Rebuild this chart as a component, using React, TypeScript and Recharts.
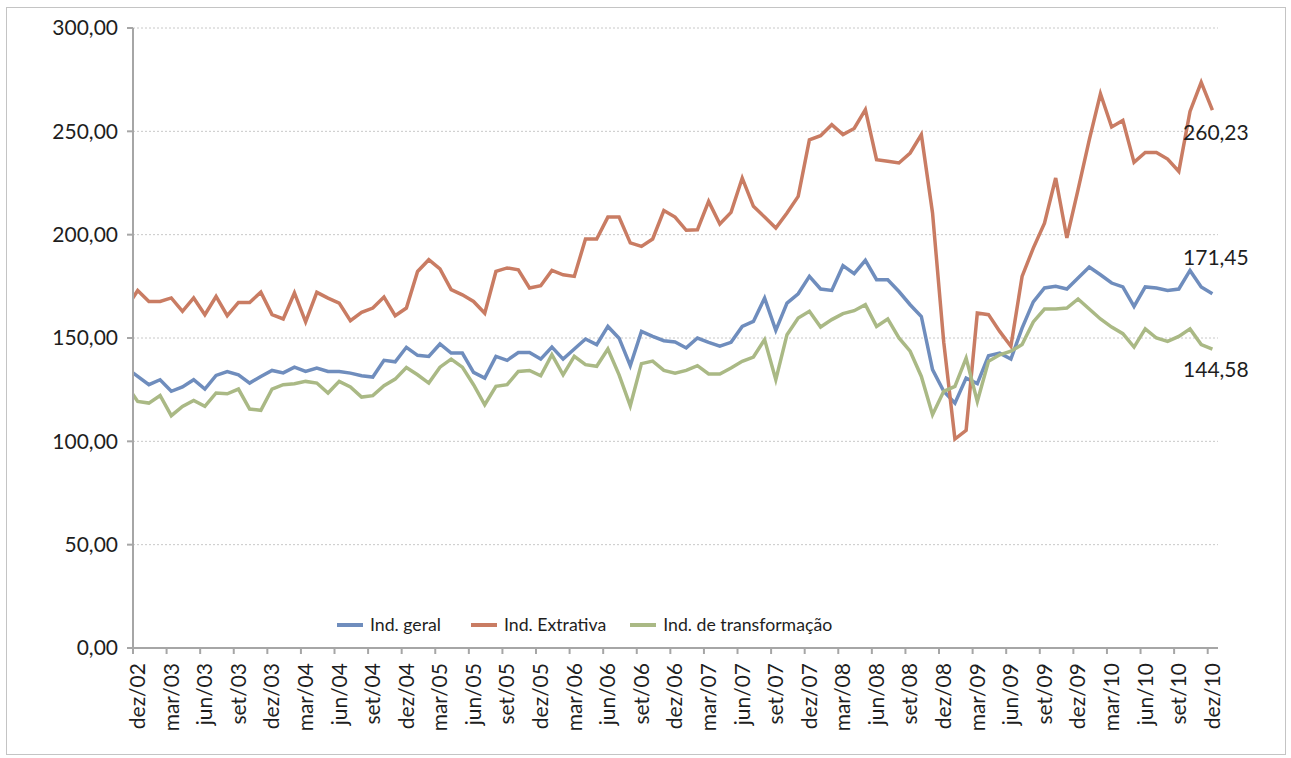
import React from "react";
import {
  LineChart,
  Line,
  XAxis,
  YAxis,
  CartesianGrid,
  Legend,
  LabelList,
} from "recharts";

const monthNames = ["jan", "fev", "mar", "abr", "mai", "jun", "jul", "ago", "set", "out", "nov", "dez"];

// nov/02 ... dez/10 (nov/02 only shows as the short stub left of the first tick)
const months: string[] = [];
for (let y = 2002; y <= 2010; y++) {
  for (let m = 0; m < 12; m++) {
    if (y === 2002 && m < 10) continue;
    months.push(`${monthNames[m]}/${String(y).slice(2)}`);
  }
}

const yTicks = [0, 50, 100, 150, 200, 250, 300];
// one label every 3 months, starting at dez/02 (index 0)
const xTicks = Array.from({ length: 33 }, (_, k) => k * 3);

const indGeral = [
  135.5,
  131.4, 127.4, 129.8, 124.2, 126.3, 129.8, 125.3, 131.9, 133.8, 132.2, 128.2, 131.4,
  134.3, 133.1, 135.9, 133.8, 135.5, 133.8, 133.8, 133.0, 131.7, 131.1, 139.2, 138.5,
  145.5, 141.6, 141.1, 147.1, 142.7, 142.7, 133.4, 130.6, 141.1, 139.2, 143.0, 143.0,
  139.8, 145.6, 139.8, 144.7, 149.5, 146.8, 155.6, 149.9, 136.6, 153.2, 150.8, 148.7,
  148.1, 145.2, 150.0, 147.9, 146.0, 147.9, 155.6, 158.0, 169.3, 153.7, 166.9, 171.4,
  179.8, 173.7, 173.0, 185.0, 181.1, 187.6, 178.2, 178.2, 172.5, 166.1, 160.4, 134.7,
  124.2, 118.5, 130.6, 127.9, 141.4, 142.7, 139.8, 154.8, 167.5, 174.2, 175.0, 173.7,
  179.0, 184.3, 180.6, 176.6, 174.7, 165.3, 174.7, 174.2, 173.0, 173.7, 182.7, 174.7,
  171.45,
];

const indExtrativa = [
  164.5,
  173.0, 167.7, 167.7, 169.4, 162.9, 169.4, 161.3, 170.1, 160.8, 167.2, 167.2, 172.2,
  161.3, 159.2, 171.8, 157.8, 172.1, 169.3, 166.9, 158.4, 162.4, 164.5, 169.8, 160.8,
  164.5, 182.2, 187.9, 183.4, 173.4, 170.9, 167.7, 162.0, 182.2, 183.9, 183.0, 174.2,
  175.3, 182.7, 180.6, 179.8, 197.9, 197.9, 208.5, 208.5, 196.0, 194.3, 197.9, 211.7,
  208.5, 202.1, 202.4, 216.1, 205.2, 210.8, 227.4, 213.7, 208.5, 203.2, 210.5, 218.5,
  245.9, 247.9, 253.2, 248.4, 251.4, 260.5, 236.3, 235.5, 234.7, 239.5, 248.4, 210.5,
  148.0, 101.1, 105.3, 162.1, 161.3, 153.2, 146.0, 179.8, 193.5, 205.6, 227.4, 198.4,
  221.8, 245.9, 268.2, 252.1, 255.3, 235.0, 239.8, 239.8, 236.6, 230.6, 259.6, 273.7,
  260.23,
];

const indTransformacao = [
  127.1,
  119.3, 118.5, 122.2, 112.4, 116.9, 119.8, 116.9, 123.4, 123.0, 125.3, 115.6, 115.0,
  125.3, 127.4, 127.9, 129.0, 128.2, 123.4, 129.0, 126.3, 121.4, 122.1, 126.9, 130.1,
  135.7, 132.2, 128.2, 135.9, 139.8, 135.9, 127.4, 117.7, 126.6, 127.4, 133.8, 134.3,
  131.7, 141.9, 132.2, 141.1, 137.1, 136.3, 144.7, 132.2, 117.2, 137.6, 138.8, 134.3,
  133.0, 134.3, 136.6, 132.6, 132.6, 135.5, 138.7, 140.8, 149.2, 129.8, 151.6, 159.7,
  162.9, 155.3, 158.9, 161.8, 163.2, 166.1, 155.6, 159.2, 150.0, 143.6, 131.4, 112.9,
  124.2, 126.6, 140.3, 119.3, 138.7, 141.9, 143.6, 146.8, 157.8, 164.0, 164.0, 164.5,
  168.9, 164.0, 159.2, 155.3, 152.1, 145.6, 154.4, 150.0, 148.4, 150.8, 154.4, 146.8,
  144.58,
];

const series = [
  { key: "geral", name: "Ind. geral", color: "#6f8dbd", labelDy: -36, gap: 30 },
  { key: "extrativa", name: "Ind. Extrativa", color: "#c97c63", labelDy: 22, gap: 24 },
  { key: "transformacao", name: "Ind. de transformação", color: "#aab985", labelDy: 20, gap: 0 },
];

const data = months.map((m, k) => ({
  idx: k - 1,
  label: m,
  geral: indGeral[k],
  extrativa: indExtrativa[k],
  transformacao: indTransformacao[k],
}));

const FONT = "Lato, 'DejaVu Sans', sans-serif";
const TEXT = "#1e1e1e";
const AXIS = "#a6a6a6";
const fmt = (v: number) => v.toFixed(2).replace(".", ",");

const MonthTick = ({ x, y, payload }: any) => {
  const label = months[payload.value + 1];
  const ty = y + 15;
  return (
    <g>
      <line x1={x - 4.7} x2={x - 4.7} y1={y} y2={y + 6} stroke={AXIS} strokeWidth={2} />
      <text
        x={x}
        y={ty}
        dy="0.35em"
        textAnchor="end"
        transform={`rotate(-90, ${x}, ${ty})`}
        fontSize={21}
        fontFamily={FONT}
        fill={TEXT}
      >
        {label}
      </text>
    </g>
  );
};

const endLabel = (dy: number) => (props: any) => {
  const { x, y, index, value } = props;
  if (index !== data.length - 1) return null;
  return (
    <text
      x={x + 3.5}
      y={y + dy}
      dy="0.35em"
      textAnchor="middle"
      fontSize={21}
      fontFamily={FONT}
      fill={TEXT}
    >
      {fmt(value)}
    </text>
  );
};

const LegendContent = () => (
  <div style={{ display: "flex", alignItems: "center", fontFamily: FONT, fontSize: 17.7, color: TEXT }}>
    {series.map((s) => (
      <div key={s.key} style={{ display: "flex", alignItems: "center", marginRight: s.gap }}>
        <div style={{ width: 26, height: 4, background: s.color, marginRight: 7 }} />
        <span>{s.name}</span>
      </div>
    ))}
  </div>
);

export default function App() {
  return (
    <div style={{ position: "absolute", left: 0, top: 0, width: 1291, height: 758, background: "#fff" }}>
      <div
        style={{
          position: "absolute",
          left: 6,
          top: 7,
          width: 1278,
          height: 746,
          border: "1.5px solid #c4c4c4",
        }}
      />
      <div style={{ position: "absolute", left: 0, top: 0 }}>
        <LineChart
          width={1291}
          height={758}
          data={data}
          margin={{ top: 28, right: 73, bottom: 5, left: 8 }}
        >
          <CartesianGrid vertical={false} stroke="#c8c8c8" strokeDasharray="2 2" />
          <XAxis
            dataKey="idx"
            type="number"
            domain={[-0.42, 96.5]}
            allowDataOverflow
            ticks={xTicks}
            interval={0}
            tick={<MonthTick />}
            tickLine={false}
            tickSize={0}
            tickMargin={0}
            height={105}
            axisLine={{ stroke: AXIS, strokeWidth: 2 }}
          />
          <YAxis
            type="number"
            domain={[0, 300]}
            ticks={yTicks}
            width={125}
            tickFormatter={fmt}
            tickSize={6}
            tickMargin={9}
            tick={{ fontSize: 21, fontFamily: FONT, fill: TEXT }}
            tickLine={{ stroke: AXIS, strokeWidth: 2 }}
            axisLine={{ stroke: AXIS, strokeWidth: 2 }}
          />
          <Legend
            verticalAlign="middle"
            align="center"
            content={<LegendContent />}
            wrapperStyle={{ left: 337, top: 614, width: "auto" }}
          />
          {series.map((s) => (
            <Line
              key={s.key}
              type="linear"
              dataKey={s.key}
              name={s.name}
              stroke={s.color}
              strokeWidth={3.5}
              dot={false}
              isAnimationActive={false}
            >
              <LabelList dataKey={s.key} content={endLabel(s.labelDy)} />
            </Line>
          ))}
        </LineChart>
      </div>
    </div>
  );
}
